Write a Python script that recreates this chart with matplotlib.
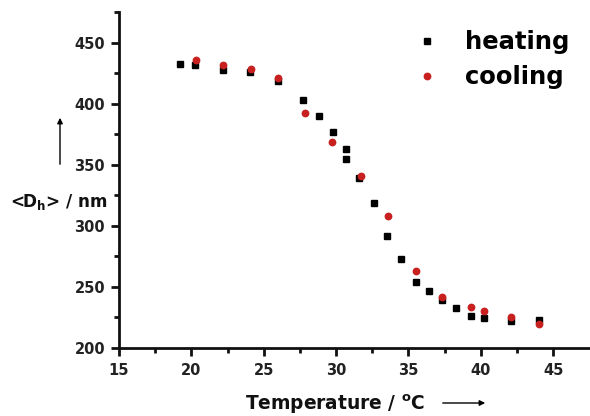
import matplotlib.pyplot as plt
from matplotlib.patches import FancyArrowPatch

plt.rcParams['font.family'] = ['DejaVu Sans']
plt.rcParams['font.weight'] = 'bold'
plt.rcParams['mathtext.fontset'] = 'dejavusans'
plt.rcParams['mathtext.default'] = 'bf'

heat_t = [19.2, 20.25, 22.2, 24.05, 26.0, 27.75, 28.8, 29.8, 30.7, 30.7, 31.6,
          32.6, 33.5, 34.5, 35.5, 36.4, 37.35, 38.3, 39.3, 40.25, 42.1, 44.0]
heat_d = [432.5, 432, 428, 426.5, 419, 403, 390, 377, 363, 355, 339,
          319, 292, 273, 254, 247, 239.5, 233, 226, 224.5, 222.5, 223]

cool_t = [20.3, 22.2, 24.1, 26.0, 27.85, 29.75, 31.7, 33.6, 35.5, 37.35,
          39.3, 40.25, 42.1, 44.0]
cool_d = [436, 432, 429, 421, 393, 369, 341, 308, 263, 241.5,
          233.5, 230.5, 225, 220]

fig = plt.figure(figsize=(5.9, 4.16), dpi=100)
ax = fig.add_axes([119 / 590, 68 / 416, 471 / 590, 336 / 416])

ax.plot(heat_t, heat_d, 's', color='black', markersize=4.3, label='heating')
ax.plot(cool_t, cool_d, 'o', color='#c8201e', markersize=4.6, label='cooling')

ax.set_xlim(15, 47.55)
ax.set_ylim(200, 475.4)
ax.set_xticks([15, 20, 25, 30, 35, 40, 45])
ax.set_xticks([17.5, 22.5, 27.5, 32.5, 37.5, 42.5], minor=True)
ax.set_yticks([200, 250, 300, 350, 400, 450])
ax.set_yticks([225, 275, 325, 375, 425, 475], minor=True)

for s in ['top', 'right']:
    ax.spines[s].set_visible(False)
for s in ['left', 'bottom']:
    ax.spines[s].set_linewidth(2)
    ax.spines[s].set_color('#111111')

ax.tick_params(which='major', length=5.5, width=2, color='#111111',
               labelsize=10.5, labelcolor='#222222')
ax.tick_params(which='minor', length=3.5, width=2, color='#111111')
ax.tick_params(axis='x', pad=5.5)
ax.tick_params(axis='y', pad=4.5)

ax.legend(loc='upper left', bbox_to_anchor=(0.638, 0.946), frameon=False,
          prop={'weight': 'bold', 'size': 17.5}, handlelength=0.6,
          handletextpad=1.26, labelspacing=0.45, borderaxespad=0, borderpad=0)

fig.text(10 / 590, 1 - 207 / 416, r'<D$_{h}$> / nm', fontsize=12.2,
         color='#111111', ha='left', va='baseline')
fig.text(245 / 590, 1 - 410 / 416, r'Temperature / $^{o}$C', fontsize=13.4,
         color='#111111', ha='left', va='baseline')

fig.add_artist(FancyArrowPatch(
    (60 / 590, 1 - 167 / 416), (60 / 590, 1 - 115 / 416),
    transform=fig.transFigure, arrowstyle='-|>', mutation_scale=8,
    lw=1, color='black'))
fig.add_artist(FancyArrowPatch(
    (440 / 590, 1 - 403 / 416), (488 / 590, 1 - 403 / 416),
    transform=fig.transFigure, arrowstyle='-|>', mutation_scale=8,
    lw=1, color='black'))

fig.savefig('out.png', dpi=100)
